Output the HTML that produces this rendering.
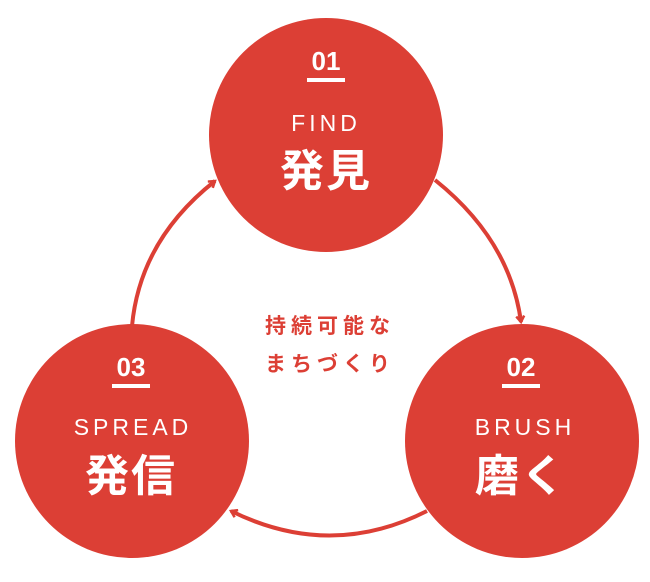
<!DOCTYPE html>
<html><head><meta charset="utf-8"><style>
html,body{margin:0;padding:0;background:#fff;}
body{width:650px;height:577px;overflow:hidden;}
svg text{font-family:"Liberation Sans","Noto Sans CJK JP",sans-serif;fill:#fff;text-anchor:middle;}
</style></head><body>
<svg width="650" height="577" viewBox="0 0 650 577">
<defs>
<marker id="a" markerWidth="10" markerHeight="10" refX="7" refY="5" orient="auto" markerUnits="userSpaceOnUse">
<path d="M1,1 L7,5 L1,9" fill="none" stroke="#dc3f35" stroke-width="2.5"/>
</marker>
</defs>
<g fill="none" stroke="#dc3f35" stroke-width="4">
<path d="M435,180 Q510,240 521,322" marker-end="url(#a)"/>
<path d="M427,511 Q330,560 231,511" marker-end="url(#a)"/>
<path d="M132,326 Q140,240 215,181" marker-end="url(#a)"/>
</g>
<g fill="#dc3f35">
<circle cx="326" cy="135" r="117"/>
<circle cx="132" cy="441" r="117"/>
<circle cx="522" cy="441" r="117"/>
</g>
<g>
<text x="326" y="70" font-size="26" font-weight="bold">01</text>
<rect x="307" y="78" width="38" height="4" fill="#fff"/>
<text x="326" y="131" font-size="23" letter-spacing="4">FIND</text>
<text x="326" y="186" font-size="44" font-weight="bold" letter-spacing="2">発見</text>

<text x="131" y="376" font-size="26" font-weight="bold">03</text>
<rect x="112" y="384" width="38" height="4" fill="#fff"/>
<text x="133" y="435" font-size="23" letter-spacing="4">SPREAD</text>
<text x="131" y="491" font-size="44" font-weight="bold" letter-spacing="2">発信</text>

<text x="521" y="376" font-size="26" font-weight="bold">02</text>
<rect x="502" y="384" width="38" height="4" fill="#fff"/>
<text x="525" y="435" font-size="23" letter-spacing="4">BRUSH</text>
<text x="521" y="491" font-size="44" font-weight="bold" letter-spacing="2">磨く</text>
</g>
<text x="330" y="333" font-size="21" font-weight="bold" letter-spacing="5" style="fill:#dc3f35">持続可能な</text>
<text x="330" y="371" font-size="21" font-weight="bold" letter-spacing="5" style="fill:#dc3f35">まちづくり</text>
</svg>
</body></html>
